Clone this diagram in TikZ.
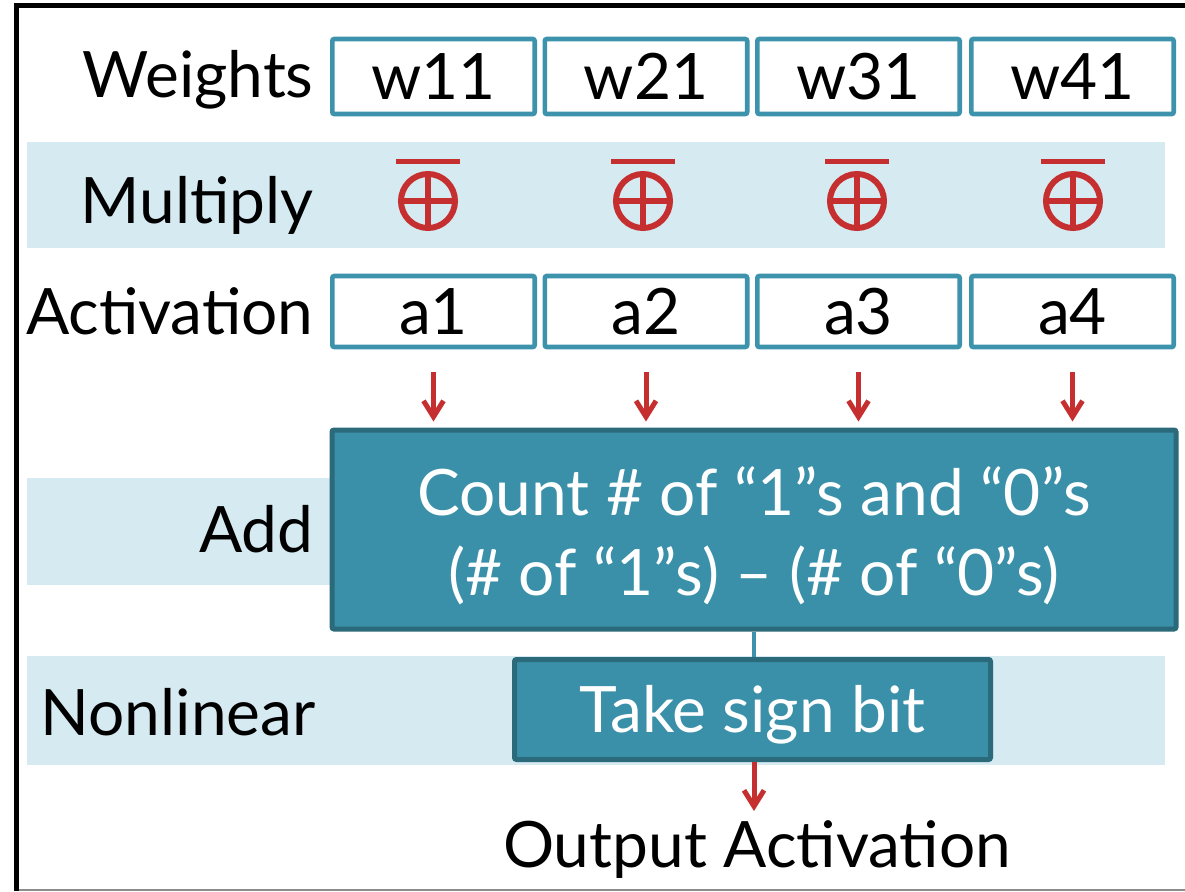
\documentclass[tikz,border=0pt]{standalone}
\usepackage{fontspec}
\setmainfont{Lato}
\usetikzlibrary{arrows.meta}
\definecolor{frameblack}{HTML}{000000}
\definecolor{boxline}{HTML}{3D93AC}
\definecolor{band}{HTML}{D5EAF1}
\definecolor{blockfill}{HTML}{3A90A8}
\definecolor{blockline}{HTML}{2B6A7A}
\definecolor{xred}{HTML}{C62F2F}
\newcommand{\bigtext}{\fontsize{32}{40}\selectfont}
\tikzset{
  rowlabel/.style={anchor=base east, font=\bigtext, inner sep=0pt},
  cellbox/.style={draw=boxline, line width=2.3pt, fill=white, rounded corners=1pt,
    minimum width=101.2pt, inner sep=0pt, font=\bigtext},
  wcell/.style={cellbox, minimum height=37.5pt},
  acell/.style={cellbox, minimum height=35.5pt},
  block/.style={draw=blockline, line width=2.5pt, fill=blockfill, rounded corners=1pt,
    text=white, font=\bigtext, align=center, inner sep=0pt},
  bandfill/.style={fill=band},
  redarrow/.style={draw=xred, line width=2.5pt,
    -{Straight Barb[length=8pt,width=10pt,line width=2.5pt]}},
  xnorpen/.style={draw=xred, line width=3pt},
}
\begin{document}
\begin{tikzpicture}[x=0.5pt,y=-0.5pt]
\useasboundingbox (0,0) rectangle (1185,891);
% outer frame
\draw[line width=2.5pt, frameblack] (16.5,891) -- (16.5,5.5) -- (1185,5.5);
\draw[line width=1pt, black!45] (19,890) -- (1185,890);
% row bands
\fill[bandfill] (27,142) rectangle (1165,248);
\fill[bandfill] (27,478) rectangle (1165,585);
\fill[bandfill] (27,656) rectangle (1165,765);
% row labels
\node[rowlabel] (lw) at (314,97) {Weights};
\node[rowlabel] (lm) at (314,223) {Multiply};
\node[rowlabel] (la) at (314,334) {Activation};
\node[rowlabel] (ladd) at (314,552) {Add};
\node[rowlabel] (ln) at (316,735) {Nonlinear};
% weight cells
\node[wcell] (w1) at (433.5,76.5) {w11};
\node[wcell] (w2) at (646,76.5) {w21};
\node[wcell] (w3) at (858.5,76.5) {w31};
\node[wcell] (w4) at (1072.5,76.5) {w41};
% activation cells
\node[acell] (a1) at (433.5,311.5) {a1};
\node[acell] (a2) at (646,311.5) {a2};
\node[acell] (a3) at (858.5,311.5) {a3};
\node[acell] (a4) at (1072.5,311.5) {a4};
% XNOR symbols (circled plus with overbar)
\foreach \cx in {428,643,857,1073}{
  \draw[xnorpen] (\cx,201) circle[radius=27];
  \draw[xnorpen] (\cx-27,201) -- (\cx+27,201);
  \draw[xnorpen] (\cx,174) -- (\cx,228);
  \draw[draw=xred, line width=2.5pt] (\cx-32,161) -- (\cx+32,161);
}
% adder block
\node[block, minimum width=422pt, minimum height=99.5pt] (count) at (754,529.5) {};
\node[text=white, font=\bigtext, inner sep=0pt, anchor=base] (c1) at (754,515) {Count \# of “1”s and “0”s};
\node[text=white, font=\bigtext, inner sep=0pt, anchor=base] (c2) at (754,595) {(\# of “1”s) – (\# of “0”s)};
% sign block
\node[block, minimum width=238pt, minimum height=50pt] (sign) at (752.5,709.5) {};
\node[text=white, font=\bigtext, inner sep=0pt, anchor=base] (s1) at (752.5,732) {Take sign bit};
% output
\node[font=\bigtext, inner sep=0pt, anchor=base] (out) at (757,867) {Output Activation};
\coordinate (outtip) at (754,811);
% connectors
\foreach \i in {1,2,3,4}{
  \draw[redarrow, shorten <=11.5pt, shorten >=3pt] (a\i.south) -- (a\i.south |- count.north);
}
\draw[draw=boxline, line width=2pt] (count.south -| 754,0) -- (sign.north -| 754,0);
\draw[redarrow] (sign.south -| 754,0) -- (outtip);
\end{tikzpicture}
\end{document}
